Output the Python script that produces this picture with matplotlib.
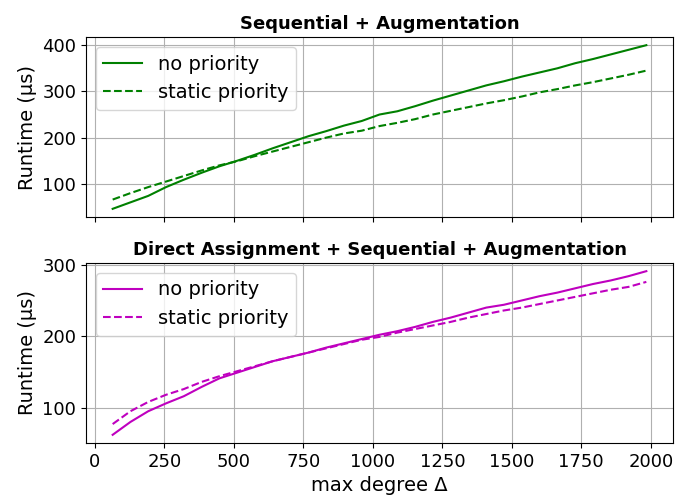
import numpy as np
import matplotlib
matplotlib.use('Agg')
import matplotlib.pyplot as plt

# max degree sweep
degrees = np.arange(64, 1985, 64)

# Sequential + Augmentation runtimes (us)
seq_no_prio = [46, 60, 74, 93, 109, 124, 138, 150, 163, 177, 190, 203, 214, 226, 236, 250,
               257, 268, 280, 291, 302, 313, 322, 332, 341, 350, 361, 370, 380, 390, 400]
seq_static = [66, 80, 93, 105, 117, 129, 140, 149, 160, 170, 180, 190, 200, 209, 215, 225,
              232, 240, 250, 258, 266, 274, 281, 289, 298, 305, 313, 320, 328, 336, 345]

# Direct Assignment + Sequential + Augmentation runtimes (us)
da_no_prio = [62, 80, 95, 106, 116, 129, 141, 149, 157, 165, 171, 177, 184, 190, 196, 202,
              207, 213, 220, 226, 233, 240, 244, 250, 256, 261, 267, 273, 278, 284, 291]
da_static = [77, 95, 108, 118, 126, 136, 144, 151, 158, 165, 171, 177, 183, 189, 195, 199,
             205, 210, 215, 220, 226, 231, 236, 240, 245, 250, 255, 260, 265, 269, 276]

plt.rcParams['font.size'] = 13
plt.rcParams['axes.labelsize'] = 14
plt.rcParams['legend.fontsize'] = 14
plt.rcParams['axes.titlesize'] = 13

fig = plt.figure(figsize=(6.89, 4.96), dpi=100)
ax1 = fig.add_axes([0.1248, 0.5625, 0.852, 0.3629])
ax2 = fig.add_axes([0.1248, 0.1069, 0.852, 0.3629], sharex=ax1)

ax1.plot(degrees, seq_no_prio, color='g', linestyle='-', label='no priority')
ax1.plot(degrees, seq_static, color='g', linestyle='--', label='static priority')
ax1.set_title('Sequential + Augmentation', fontweight='bold')
ax1.set_ylabel('Runtime (µs)')
ax1.legend(loc='upper left')
ax1.grid(True)
ax1.tick_params(labelbottom=False)

ax2.plot(degrees, da_no_prio, color='m', linestyle='-', label='no priority')
ax2.plot(degrees, da_static, color='m', linestyle='--', label='static priority')
ax2.set_title('Direct Assignment + Sequential + Augmentation', fontweight='bold')
ax2.set_ylabel('Runtime (µs)')
ax2.set_xlabel('max degree Δ')
ax2.legend(loc='upper left')
ax2.grid(True)
ax2.set_xticks([0, 250, 500, 750, 1000, 1250, 1500, 1750, 2000])

fig.savefig('out.png', dpi=100)
